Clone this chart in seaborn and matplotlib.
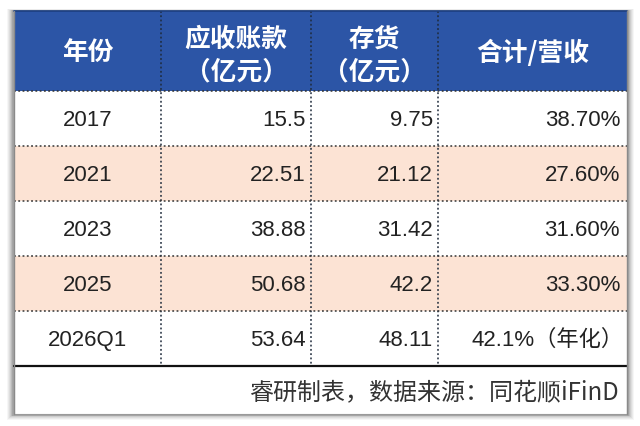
import numpy as np
import pandas as pd
import matplotlib
matplotlib.use("Agg")
import matplotlib.pyplot as plt
import seaborn as sns
from matplotlib.colors import ListedColormap
from matplotlib import font_manager
from matplotlib.patches import Rectangle

# ---------------- data ----------------
header_line1 = ["年份", "应收账款", "存货", "合计/营收"]
header_line2 = ["", "（亿元）", "（亿元）", ""]
years = ["2017", "2021", "2023", "2025", "2026Q1"]
receivables = ["15.5", "22.51", "38.88", "50.68", "53.64"]
inventory = ["9.75", "21.12", "31.42", "42.2", "48.11"]
ratio = ["38.70%", "27.60%", "31.60%", "33.30%", "42.1%（年化）"]
row_band = [0, 1, 0, 1, 0]
source_note = "睿研制表，数据来源：同花顺iFinD"

# ---------------- style ----------------
sns.set_theme(style="white")
names = {f.name for f in font_manager.fontManager.ttflist}
if "Liberation Sans Narrow" in names:
    NUM_FONT, NUM_SIZE = "Liberation Sans Narrow", 17.5
else:
    NUM_FONT, NUM_SIZE = "Liberation Sans", 16
CJK = "Noto Sans CJK SC"
plt.rcParams["font.family"] = [NUM_FONT, CJK, "DejaVu Sans"]

W, H = 640, 427
HEADER_BLUE = "#2C55A6"
PEACH = "#FCE3D4"
left, right = 14, 627
top, head_bot = 12, 92
row_h = 55
body_bot = head_bot + row_h * len(years)
foot_bot = 415
col_edges = [left, 161, 311, 438, right]

fig = plt.figure(figsize=(W / 100, H / 100), dpi=100)
fig.patch.set_facecolor("white")

def frac_rect(x0, y0, x1, y1):
    return [x0 / W, 1 - y1 / H, (x1 - x0) / W, (y1 - y0) / H]

# background: shadow + footer panel
bg = fig.add_axes([0, 0, 1, 1], zorder=0)
bg.set_xlim(0, W); bg.set_ylim(H, 0); bg.axis("off")
for i, a in enumerate([0.05, 0.07, 0.09, 0.12, 0.16, 0.20]):
    d = 7 - i
    bg.add_patch(Rectangle((left - d, top - d * 0.3), (right - left) + 2 * d,
                           (foot_bot - top) + d * 0.8 + d * 0.3,
                           facecolor="#5a5a5a", alpha=a, lw=0))
bg.add_patch(Rectangle((left, top), right - left, foot_bot - top,
                       facecolor="white", edgecolor="#9a9a9a", lw=0.8))

# header band via heatmap
axh = fig.add_axes(frac_rect(left, top, right, head_bot), zorder=1)
sns.heatmap(pd.DataFrame([[0]]), ax=axh, cmap=ListedColormap([HEADER_BLUE]),
            cbar=False, xticklabels=False, yticklabels=False, vmin=0, vmax=1)

# body row bands via heatmap
axb = fig.add_axes(frac_rect(left, head_bot, right, body_bot), zorder=1)
sns.heatmap(pd.DataFrame({"band": row_band}), ax=axb,
            cmap=ListedColormap(["white", PEACH]), cbar=False,
            xticklabels=False, yticklabels=False, vmin=0, vmax=1)

# foreground: lines and text
fg = fig.add_axes([0, 0, 1, 1], zorder=2)
fg.set_xlim(0, W); fg.set_ylim(H, 0); fg.axis("off")
fg.patch.set_alpha(0)

dot = (0, (1.2, 1.6))
for x in col_edges[1:-1]:
    fg.plot([x, x], [top, body_bot], color="#1e2a3a", lw=1.1, ls=dot)
for i in range(len(years)):
    y = head_bot + i * row_h
    fg.plot([left, right], [y, y], color="#333333", lw=1.1, ls=dot)
fg.plot([left, right], [top, top], color="#1d3f80", lw=1.2)
fg.plot([left, right], [body_bot, body_bot], color="#111111", lw=1.6)
fg.plot([left, left], [top, foot_bot], color="#8a8a8a", lw=1.0)
fg.plot([right, right], [top, foot_bot], color="#8a8a8a", lw=1.0)

# header text
for j in range(4):
    cx = (col_edges[j] + col_edges[j + 1]) / 2
    if header_line2[j]:
        fg.text(cx, 39, header_line1[j], ha="center", va="center", color="white",
                fontsize=18.5, fontweight="bold", family=[CJK])
        fg.text(cx, 72, header_line2[j], ha="center", va="center", color="white",
                fontsize=18.5, fontweight="bold", family=[CJK])
    else:
        fg.text(cx, 53, header_line1[j], ha="center", va="center", color="white",
                fontsize=18.5, fontweight="bold", family=[CJK])

# body text
txt_col = "#222222"
for i in range(len(years)):
    cy = head_bot + (i + 0.5) * row_h + 1
    fg.text((col_edges[0] + col_edges[1]) / 2, cy, years[i], ha="center", va="center",
            color=txt_col, fontsize=NUM_SIZE, family=[NUM_FONT, CJK])
    fg.text(col_edges[2] - 5, cy, receivables[i], ha="right", va="center",
            color=txt_col, fontsize=NUM_SIZE, family=[NUM_FONT, CJK])
    fg.text(col_edges[3] - 5, cy, inventory[i], ha="right", va="center",
            color=txt_col, fontsize=NUM_SIZE, family=[NUM_FONT, CJK])
    if "（" in ratio[i]:
        fg.text(471, cy, ratio[i], ha="left", va="center",
                color=txt_col, fontsize=NUM_SIZE, family=[NUM_FONT, CJK])
    else:
        fg.text(right - 7, cy, ratio[i], ha="right", va="center",
                color=txt_col, fontsize=NUM_SIZE, family=[NUM_FONT, CJK])

# footer
fg.text(right - 7, (body_bot + foot_bot) / 2 + 1, source_note, ha="right", va="center",
        color="#333333", fontsize=17.3, family=[CJK, "DejaVu Sans"])

fig.savefig("out.png", dpi=100)
